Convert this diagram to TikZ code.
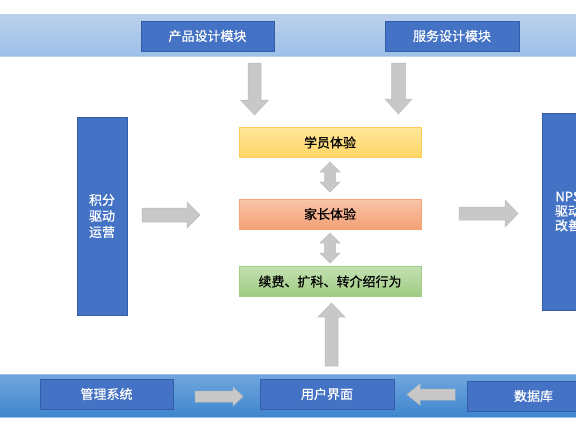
\documentclass[tikz,border=0pt]{standalone}
\usepackage{fontspec}
\newfontfamily\cjk{Noto Sans CJK SC}[FakeBold=0.6]
\usetikzlibrary{calc}
\definecolor{boxblue}{RGB}{68,114,196}
\definecolor{boxblueedge}{RGB}{54,94,168}
\definecolor{arrowgray}{RGB}{200,200,200}
\definecolor{arrowedge}{RGB}{188,188,188}
\definecolor{topbandA}{RGB}{186,208,236}
\definecolor{topbandB}{RGB}{156,192,232}
\definecolor{topbandline}{RGB}{190,212,238}
\definecolor{botbandA}{RGB}{112,166,222}
\definecolor{botbandB}{RGB}{62,134,206}
\definecolor{botbandline}{RGB}{150,190,230}
\definecolor{yelEdge}{RGB}{255,205,90}
\definecolor{yelA}{RGB}{255,230,153}
\definecolor{yelB}{RGB}{255,214,102}
\definecolor{orEdge}{RGB}{244,164,120}
\definecolor{orA}{RGB}{248,196,168}
\definecolor{orB}{RGB}{243,160,118}
\definecolor{grEdge}{RGB}{160,205,135}
\definecolor{grA}{RGB}{196,224,178}
\definecolor{grB}{RGB}{160,204,130}
\tikzset{
  bluebox/.style={draw=boxblueedge, line width=0.6pt, fill=boxblue, text=white, inner sep=0pt, font=\cjk\fontsize{13}{16}\selectfont, align=center},
  midbox/.style={inner sep=0pt, line width=0.8pt, font=\cjk\fontsize{13}{16}\selectfont, text=black, minimum width=182pt, minimum height=30pt},
  blockarrow/.style={fill=arrowgray, draw=arrowedge, line width=0.5pt},
}
% horizontal or vertical single block arrow: tail, tip, half shaft, half head, head length
\newcommand\harrowX[5]{%
  \path[blockarrow] let \p1=(#1), \p2=(#2), \n1={sign(\x2-\x1)} in
    (\x1,\y1+#3) -- (\x2-\n1*#5,\y1+#3) -- (\x2-\n1*#5,\y1+#4) -- (\x2,\y1)
    -- (\x2-\n1*#5,\y1-#4) -- (\x2-\n1*#5,\y1-#3) -- (\x1,\y1-#3) -- cycle;}
\newcommand\varrowX[5]{%
  \path[blockarrow] let \p1=(#1), \p2=(#2), \n1={sign(\y2-\y1)} in
    (\x1+#3,\y1) -- (\x1+#3,\y2-\n1*#5) -- (\x1+#4,\y2-\n1*#5) -- (\x1,\y2)
    -- (\x1-#4,\y2-\n1*#5) -- (\x1-#3,\y2-\n1*#5) -- (\x1-#3,\y1) -- cycle;}
\newcommand\dvarrowX[5]{%
  \path[blockarrow] let \p1=(#1), \p2=(#2), \n1={sign(\y2-\y1)} in
    (\x1,\y1) -- (\x1+#4,\y1+\n1*#5) -- (\x1+#3,\y1+\n1*#5) -- (\x1+#3,\y2-\n1*#5)
    -- (\x1+#4,\y2-\n1*#5) -- (\x1,\y2) -- (\x1-#4,\y2-\n1*#5) -- (\x1-#3,\y2-\n1*#5)
    -- (\x1-#3,\y1+\n1*#5) -- (\x1-#4,\y1+\n1*#5) -- cycle;}
\begin{document}
\begin{tikzpicture}[x=1pt,y=-1pt]
\useasboundingbox (0,0) rectangle (576,432);
\fill[white] (0,0) rectangle (576,432);
% bands
\shade[top color=topbandA, bottom color=topbandB] (0,14) rectangle (576,56);
\draw[color=topbandline, line width=0.8pt] (0,56) -- (576,56);
\shade[top color=botbandA, bottom color=botbandB] (0,374) rectangle (576,417);
\draw[color=botbandline, line width=0.8pt] (0,374) -- (576,374);
\draw[color=botbandline, line width=0.8pt] (0,417) -- (576,417);
% top boxes
\node[bluebox, minimum width=133pt, minimum height=30pt] (prod) at (207.5,36) {产品设计模块};
\node[bluebox, minimum width=134pt, minimum height=30pt] (serv) at (452,36) {服务设计模块};
% side boxes
\node[bluebox, minimum width=50pt, minimum height=198pt] (jifen) at (102,216) {积分\\驱动\\运营};
\node[bluebox, minimum width=52pt, minimum height=197pt, font=\cjk\fontsize{13}{14.5}\selectfont] (nps) at (568,211.5) {NPS\\驱动\\改善};
% middle boxes
\node[midbox, draw=yelEdge, top color=yelA, bottom color=yelB] (xue) at (330,142.5) {学员体验};
\node[midbox, draw=orEdge, top color=orA, bottom color=orB] (jia) at (330,214) {家长体验};
\node[midbox, draw=grEdge, top color=grA, bottom color=grB] (xu) at (330,281.5) {续费、扩科、转介绍行为};
% bottom boxes
\node[bluebox, minimum width=133pt, minimum height=30pt] (guan) at (106.5,394) {管理系统};
\node[bluebox, minimum width=134pt, minimum height=30pt] (yong) at (327,394) {用户界面};
\node[bluebox, minimum width=133pt, minimum height=30pt] (shu) at (533.5,396) {数据库};
% arrow end points
\coordinate (d1a) at (254.5,63);  \coordinate (d1b) at (254.5,115);
\coordinate (d2a) at (398.5,63);  \coordinate (d2b) at (398.5,114);
\coordinate (l1a) at (142,215);   \coordinate (l1b) at (200,215);
\coordinate (r1a) at (459,213.5); \coordinate (r1b) at (518,213.5);
\coordinate (b1a) at (195,396.5); \coordinate (b1b) at (243,396.5);
\coordinate (b2a) at (455,394.5); \coordinate (b2b) at (407,394.5);
\coordinate (u1a) at (331.5,366); \coordinate (u1b) at (331.5,303);
\coordinate (m1a) at (330,162);   \coordinate (m1b) at (330,192);
\coordinate (m2a) at (330,233);   \coordinate (m2b) at (330,263);
% arrows
\varrowX{d1a}{d1b}{6.5pt}{14pt}{15pt}
\varrowX{d2a}{d2b}{7pt}{13.5pt}{15pt}
\harrowX{l1a}{l1b}{7pt}{13pt}{13pt}
\harrowX{r1a}{r1b}{6.5pt}{13.5pt}{13pt}
\harrowX{b1a}{b1b}{5.5pt}{9.5pt}{10pt}
\harrowX{b2a}{b2b}{5.5pt}{10.5pt}{13pt}
\varrowX{u1a}{u1b}{6.5pt}{13.5pt}{14pt}
\dvarrowX{m1a}{m1b}{5.5pt}{10pt}{10pt}
\dvarrowX{m2a}{m2b}{5.5pt}{10pt}{10pt}
\end{tikzpicture}
\end{document}
